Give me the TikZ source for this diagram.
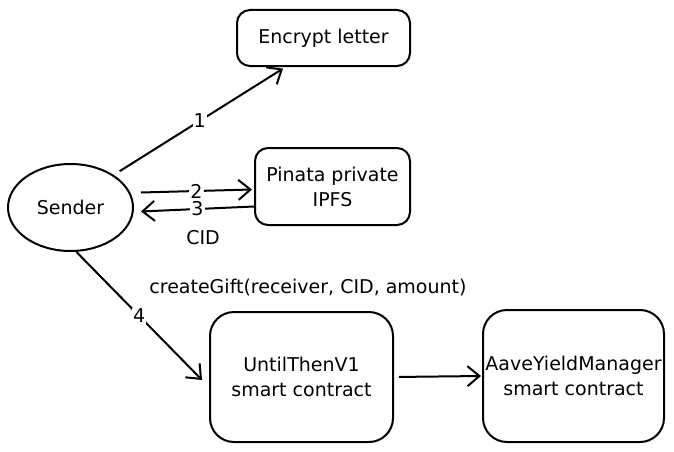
\documentclass[tikz,border=0pt]{standalone}
\usepackage{fontspec}
\setmainfont{DejaVu Sans}
\usetikzlibrary{shapes.geometric,arrows.meta}

\begin{document}
\begin{tikzpicture}[x=1pt,y=-1pt,line width=2pt]
\tikzstyle{every node}+=[font=\fontsize{19}{25}\selectfont, align=center]
\tikzstyle{box}=[draw, rounded corners=13pt]
\tikzstyle{bigbox}=[draw, rounded corners=24pt, inner sep=1pt]
\tikzstyle{arr}=[-{Straight Barb[length=12pt,width=20pt]}]
\tikzstyle{num}=[fill=white, inner sep=1pt]
\useasboundingbox (0,0) rectangle (674,452);
\node [draw, ellipse, minimum width=125pt, minimum height=87pt] (sender) at (70.5,207.5) {Sender};
\node [box, minimum width=173pt, minimum height=56pt] (encrypt) at (323.5,38) {Encrypt letter};
\node [box, minimum width=155pt, minimum height=77pt] (pinata) at (332.5,186.5) {Pinata private\\IPFS};
\node [bigbox, minimum width=183pt, minimum height=130pt] (until) at (301.5,377) {UntilThenV1\\smart contract};
\node [bigbox, minimum width=181pt, minimum height=132pt] (aave) at (573.5,376) {AaveYieldManager\\smart contract};
\node (cid) at (203,238) {CID};
\node (create) at (308,288) {createGift(receiver, CID, amount)};
\draw [arr, shorten <=7pt, shorten >=3pt] (sender.37) -- node [num] {1} ([xshift=-38pt]encrypt.south);
\draw [arr] ([shift={(7pt,15pt)}]sender.east) -- node [num] {2} ([shift={(-2pt,-3pt)}]pinata.west);
\draw [arr] ([yshift=-20pt]pinata.west) -- node [num] {3} ([shift={(7pt,-4pt)}]sender.east);
\draw [arr] ([xshift=6pt]sender.south) -- node [num] {4} ([shift={(-7pt,-3pt)}]until.west);
\draw [arr, shorten <=5pt, shorten >=1pt] (until.east) -- (aave.west);
\end{tikzpicture}
\end{document}
